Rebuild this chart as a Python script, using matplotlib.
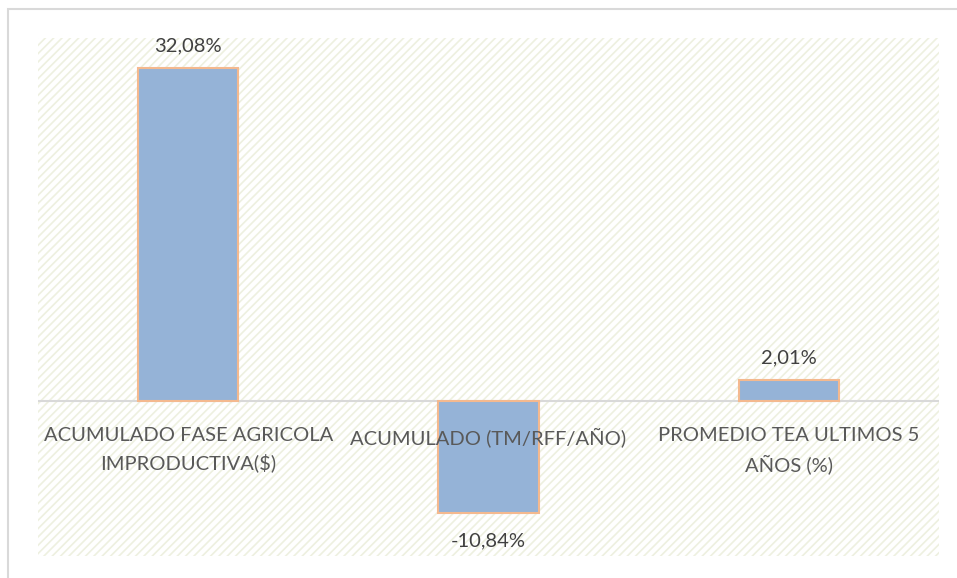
import matplotlib
matplotlib.use("Agg")
import matplotlib.pyplot as plt
from matplotlib.patches import Rectangle

categories = ["ACUMULADO FASE AGRICOLA\nIMPRODUCTIVA($)", "ACUMULADO (TM/RFF/AÑO)", "PROMEDIO TEA ULTIMOS 5\nAÑOS (%)"]
values = [32.08, -10.84, 2.01]
value_labels = ["32,08%", "-10,84%", "2,01%"]

plt.rcParams['font.family'] = ['Lato', 'DejaVu Sans']
plt.rcParams['hatch.linewidth'] = 1.2

W, H = 957, 578
fig = plt.figure(figsize=(W/100, H/100), dpi=100)
fig.patch.set_facecolor('white')

# outer chart border
fig.patches.append(Rectangle((8/W, -0.01), 1.0, 1 - 9/H + 0.01, transform=fig.transFigure,
                             fill=False, edgecolor='#d9d9d9', linewidth=1.5))

ax = fig.add_axes([38/W, 1 - 556/H, 901/W, 518/H])
ax.set_xlim(-0.5, 2.5)
ax.set_ylim(-15, 35)
ax.add_patch(Rectangle((0, 0), 1, 1, transform=ax.transAxes, facecolor='white',
                       edgecolor='#eef0e0', linewidth=0, hatch='////', zorder=0))
for s in ax.spines.values():
    s.set_visible(False)
ax.set_xticks([])
ax.set_yticks([])
ax.axhline(0, color='#d9d9d9', linewidth=1.5, zorder=1)

x = list(range(len(categories)))
ax.bar(x, values, width=1/3, color='#95b3d7', edgecolor='#f4b98f', linewidth=1.5, zorder=2)

for xi, v, lab in zip(x, values, value_labels):
    if v >= 0:
        ax.annotate(lab, (xi, v), xytext=(0, 16), textcoords='offset points',
                    ha='center', va='center', fontsize=14.5, color='#404040', zorder=4)
    else:
        ax.annotate(lab, (xi, v), xytext=(0, -20), textcoords='offset points',
                    ha='center', va='center', fontsize=14.5, color='#404040', zorder=4)

for xi, cat in zip(x, categories):
    ax.annotate(cat, (xi, 0), xytext=(0, -19), textcoords='offset points',
                ha='center', va='top', fontsize=14.5, color='#595959',
                linespacing=1.62, zorder=5)

fig.savefig('out.png', dpi=100, facecolor='white')
